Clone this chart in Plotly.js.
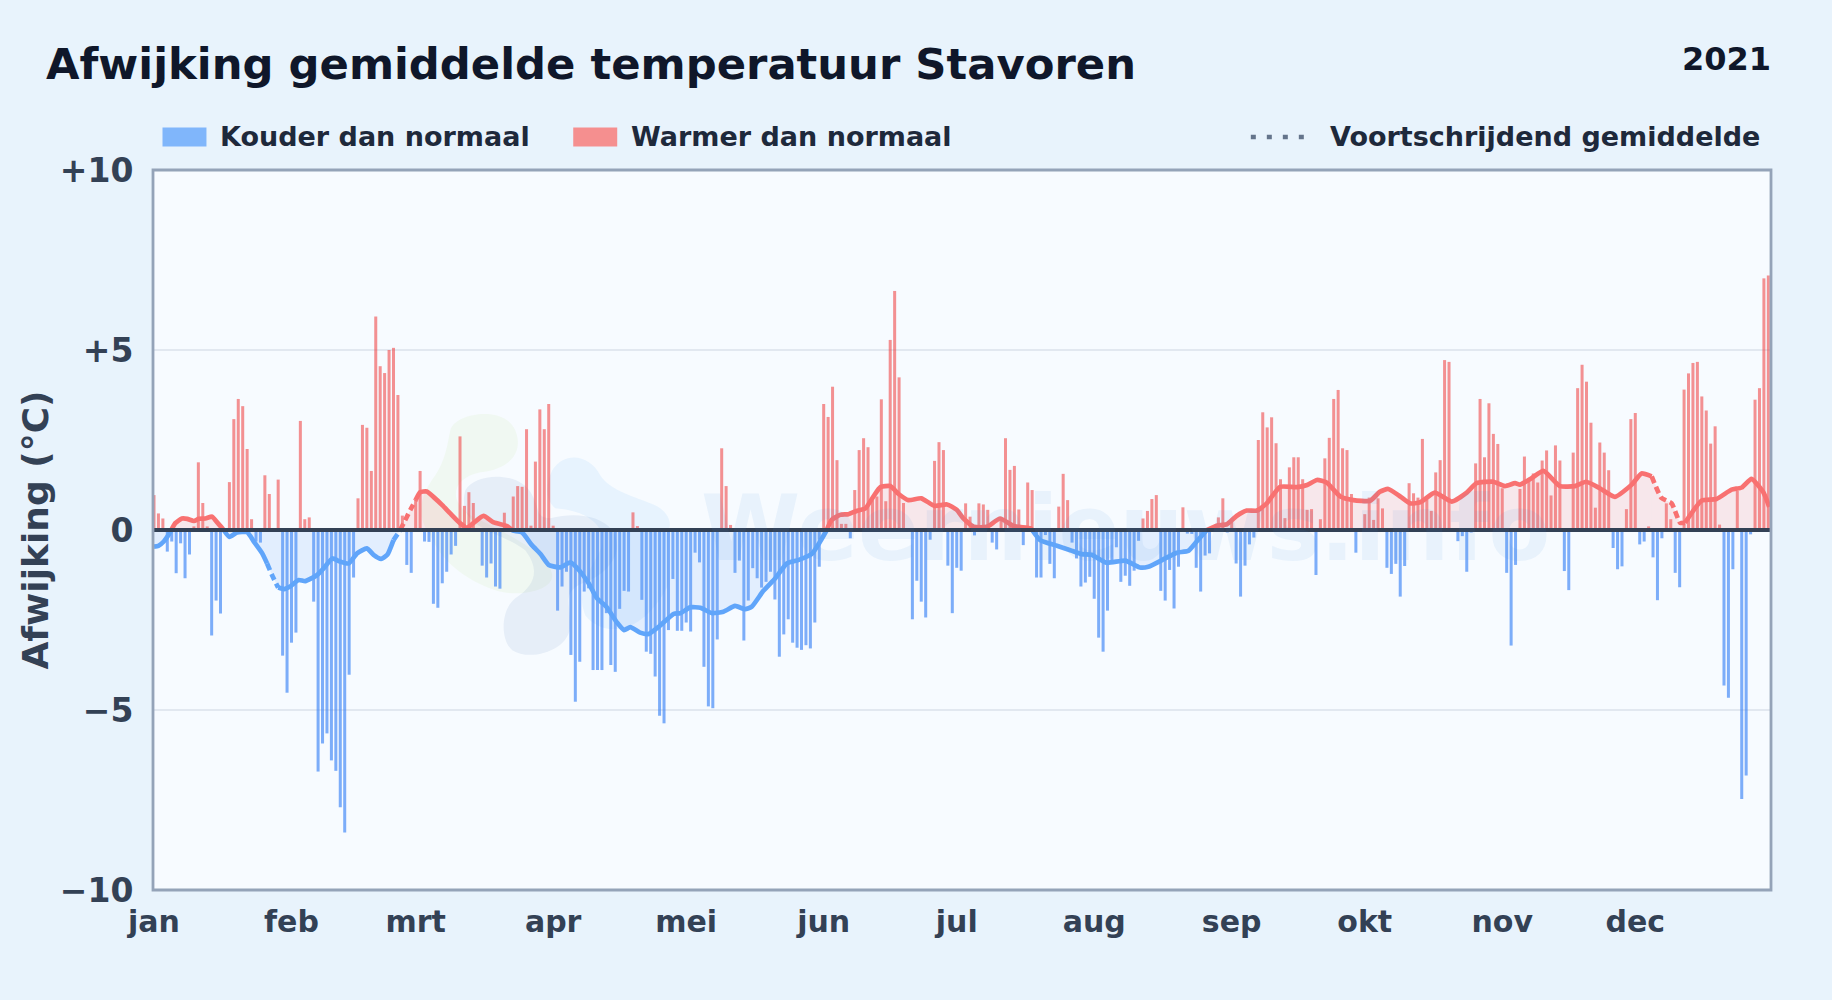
<!DOCTYPE html>
<html><head><meta charset="utf-8">
<script src="https://cdn.plot.ly/plotly-3.0.1.min.js"></script>
<style>html,body{margin:0;padding:0;background:#e8f3fc}#c{width:1832px;height:1000px}</style>
</head><body><div id="c"></div>
<script>
const titleText = "Afwijking gemiddelde temperatuur Stavoren";
const yearText = "2021";
const monthLabels = ["jan","feb","mrt","apr","mei","jun","jul","aug","sep","okt","nov","dec"];
const monthStarts = [0,31,59,90,120,151,181,212,243,273,304,334];
const yTickVals = [10,5,0,-5,-10];
const yTickText = ["+10","+5","0","\u22125","\u221210"];
const deviations = [
0.97,0.46,0.32,-0.6,-0.32,-1.2,-0.37,-1.34,-0.68,0.1,
1.88,0.75,0.1,-2.93,-1.96,-2.32,0,1.33,3.08,3.64,
3.44,2.25,0.3,-0.32,-0.35,1.52,1.0,0,1.4,-3.49,
-4.52,-3.13,-2.85,3.03,0.3,0.35,-1.99,-6.71,-5.93,-5.65,
-6.4,-6.69,-7.7,-8.4,-4.02,-1.32,0.88,2.92,2.84,1.64,
5.93,4.55,4.36,5.0,5.06,3.75,0.4,-0.97,-1.19,0.85,
1.64,-0.32,-0.33,-2.05,-2.16,-1.48,-1.16,-0.68,-0.44,2.6,
0.67,1.05,0.75,0,-0.99,-1.32,-0.93,-1.57,-1.63,0.48,
0,0.93,1.22,1.2,2.8,0.12,1.9,3.35,2.8,3.5,
0.12,-2.24,-1.57,-1.16,-3.47,-4.77,-3.66,-1.71,-1.62,-3.89,
-3.89,-3.89,-2.31,-3.75,-3.94,-2.19,-1.69,-1.71,0.49,0.11,
-1.94,-3.38,-3.44,-4.07,-5.16,-5.37,-2.78,-1.36,-2.8,-2.8,
-2.57,-2.82,-0.63,-0.9,-3.8,-4.9,-4.95,-3.04,2.27,1.22,
0.14,-1.19,-0.85,-3.07,-1.96,-1.06,-1.34,-1.6,-1.44,-1.16,
-1.93,-3.52,-2.9,-2.48,-3.13,-3.27,-3.33,-3.2,-3.29,-2.57,
-1.02,3.5,3.14,3.98,1.94,0.17,0.17,-0.23,1.11,2.22,
2.55,2.3,0.83,0.93,3.63,0.8,5.28,6.64,4.24,0.75,
0,-2.48,-1.41,-1.99,-2.43,-0.27,1.92,2.44,2.22,-0.99,
-2.31,-1.05,-1.13,0.74,0.37,-0.15,0.74,0.71,0.56,-0.35,
-0.54,0.3,2.55,1.67,1.78,0.57,-0.42,1.32,1.11,-1.32,
-1.32,-0.14,-0.94,-1.34,0.65,1.56,0.83,-0.35,-0.79,-1.57,
-1.46,-1.3,-1.91,-2.99,-3.38,-2.24,-0.9,-0.48,-1.44,-1.27,
-1.55,-1.13,-0.3,0.32,0.53,0.86,0.97,-1.69,-1.96,-1.11,
-2.18,-1.02,0.63,-0.1,-0.11,-1.05,-1.71,-0.71,-0.65,0.08,
0.35,0.88,-0.07,0.23,-0.93,-1.85,-0.99,-0.4,-0.21,2.5,
3.27,2.85,3.13,2.41,1.41,0.33,1.74,2.02,2.02,1.41,
0.56,0.58,-1.25,0.3,1.99,2.56,3.64,3.89,2.27,2.22,
1.0,-0.63,0,0.44,0.9,0.28,0.88,0.6,-1.05,-1.22,
-0.94,-1.85,-1.0,1.3,1.02,0.9,2.53,0.85,0.53,1.6,
1.94,4.72,4.67,0,-0.31,-0.17,-1.16,-0.07,1.85,3.64,
2.02,3.52,2.67,2.39,1.16,-1.19,-3.21,-0.97,1.14,2.04,
1.44,1.57,1.32,1.93,2.21,0.96,2.35,1.93,-1.14,-1.67,
2.15,3.94,4.59,4.12,2.98,0.62,2.43,2.15,1.66,-0.5,
-1.09,-1.01,0.58,3.08,3.25,-0.4,-0.32,0.1,-0.76,-1.95,
-0.23,0.74,0.3,-1.19,-1.59,3.9,4.35,4.64,4.67,3.71,
3.32,2.4,2.88,0.15,-4.32,-4.66,-1.09,1.09,-7.47,-6.82,
-0.12,3.62,3.94,6.99,7.07];
const days = deviations.map((_, i) => i);

const maDays = [0,1,2.2,3.7,3.9,4.8,6.3,7.5,9,10.1,11.6,13.1,14.4,15.4,15.7,17,18.7,21,22.5,24.4,25.5,26.6,28,29.3,30.8,32.6,34.1,36.8,38.3,40.2,42,43.9,45.8,48,49.5,51.2,52.6,54,55.2,55.5,56.3,57.8,59,60,61.5,63,65,66.8,69,70.6,72,74.3,76.6,79.6,80.8,81,83,85.2,87.1,89,91.6,93.9,95.8,98,99.9,102,104.4,106,107.4,109.6,111.5,113.8,117.2,118.7,120.9,123.2,125.8,128.4,131,133.3,134.8,137.4,140.1,142.7,145.4,148.4,150.2,151.7,152.8,154.7,156.6,158.4,160.4,162.2,163.8,166,167.9,170.1,173,176,178.8,181,182.5,184.8,187.8,190.8,193.8,197.6,198,199.8,203.6,206.6,209.2,211.4,214.8,219,222.3,224.2,228,230.6,233.2,235.1,237.4,239.6,241.9,244.1,246.4,248.7,250.9,253.9,257.7,260,262.2,264.4,267.5,270.4,274.2,276.4,278.3,281,283.2,285.5,288.8,292.6,296,298.2,302,304.6,306.9,308,310.6,313.3,317,320.4,322.9,326,329.4,333.2,335.4,337.7,339.9,342.2,344.1,345.2,349,352.3,355.7,358,360.2,362.9,364.2];
const maValues = [-0.46,-0.44,-0.32,-0.05,0,0.19,0.32,0.31,0.25,0.31,0.32,0.37,0.19,0.05,0,-0.19,-0.07,-0.06,-0.32,-0.65,-0.93,-1.25,-1.6,-1.64,-1.56,-1.39,-1.42,-1.25,-1.06,-0.79,-0.88,-0.93,-0.65,-0.51,-0.69,-0.8,-0.69,-0.28,-0.06,0,0.19,0.56,0.83,1.05,1.07,0.92,0.69,0.46,0.19,0.06,0.19,0.39,0.21,0.11,0,-0.02,-0.07,-0.42,-0.66,-0.97,-1.04,-0.9,-1.11,-1.48,-1.9,-2.13,-2.57,-2.78,-2.7,-2.85,-2.89,-2.69,-2.33,-2.31,-2.15,-2.16,-2.31,-2.27,-2.11,-2.2,-2.13,-1.69,-1.34,-0.93,-0.83,-0.65,-0.32,0,0.28,0.42,0.44,0.53,0.6,0.93,1.19,1.22,1.0,0.83,0.88,0.67,0.71,0.56,0.32,0.09,0.09,0.32,0.11,0.05,0,-0.28,-0.44,-0.56,-0.67,-0.69,-0.91,-0.85,-1.04,-1.02,-0.79,-0.63,-0.58,-0.32,0,0.12,0.16,0.39,0.54,0.54,0.74,1.2,1.19,1.25,1.39,1.32,0.93,0.83,0.81,1.06,1.14,0.93,0.74,0.77,1.04,0.79,1.04,1.3,1.34,1.22,1.3,1.26,1.44,1.64,1.22,1.22,1.34,1.16,0.92,1.26,1.57,1.49,0.89,0.74,0.2,0.2,0.82,0.86,1.12,1.18,1.42,1.04,0.64];
const dashedRanges = [[25.5,28],[54,59],[337.7,345.2]];

const RED = "#f87171", BLUE = "#60a5fa";
const L=152.5, R=1771.5, T=169.5, B=890;
const fx = X => (X-L)/(R-L), fy = Y => (B-Y)/(B-T);
const xr = [-0.225, 364.6];

const isDashed = d => dashedRanges.some(r => d >= r[0] && d < r[1]);
const segs = [];
let cur = null;
for (let i = 0; i < maDays.length - 1; i++) {
  const mid = (maValues[i] + maValues[i+1]) / 2;
  const sign = mid >= 0 ? 1 : -1;
  const dash = isDashed(maDays[i]);
  if (!cur || cur.sign !== sign || cur.dash !== dash) {
    cur = {sign, dash, x:[maDays[i]], y:[maValues[i]]};
    segs.push(cur);
  }
  cur.x.push(maDays[i+1]); cur.y.push(maValues[i+1]);
}

const data = [{
  type:"bar", x:days, y:deviations, width:0.68, hoverinfo:"skip",
  marker:{color:deviations.map(v => v<0 ? "rgba(59,130,246,0.65)" : "rgba(239,68,68,0.58)"), line:{width:0}}
}];
segs.forEach(s => {
  data.push({type:"scatter", mode:"none", x:s.x, y:s.y, fill:"tozeroy", hoverinfo:"skip",
    fillcolor: s.sign>0 ? "rgba(248,113,113,0.14)" : "rgba(96,165,250,0.14)"});
});
segs.forEach(s => {
  data.push({type:"scatter", mode:"lines", x:s.x, y:s.y, hoverinfo:"skip",
    line:{color:s.sign>0?RED:BLUE, width:4.7, shape:"spline", smoothing:0.5, dash:s.dash?"7px,4px":"solid"}});
});

const blob = (d, fill) => ({type:"path", layer:"below", xref:"paper", yref:"paper", line:{width:0}, fillcolor:fill,
  path:d.replace(/(-?[\d.]+),(-?[\d.]+)/g, (m,a,b) => fx(+a).toFixed(5)+","+fy(+b).toFixed(5))});
const GREEN="rgba(190,225,130,0.10)", GREY="rgba(90,130,190,0.10)", LBLUE="rgba(110,180,250,0.11)";

const shapes = [
  blob("M 450,430 C 455,412 505,405 515,430 C 525,455 505,470 480,472 C 450,478 445,505 480,520 C 510,535 550,555 552,575 C 553,590 520,598 495,590 C 465,580 440,560 430,535 C 415,515 420,495 435,475 C 445,460 447,445 450,430 Z", GREEN),
  blob("M 465,490 C 475,472 520,470 532,495 C 540,510 535,517 550,518 C 575,512 600,515 612,530 C 625,550 610,570 590,580 C 560,590 570,600 570,625 C 570,650 530,662 512,650 C 500,640 500,610 515,598 C 535,585 540,570 525,550 C 500,530 455,530 465,490 Z", GREY),
  blob("M 552,470 C 565,450 590,455 600,475 C 610,490 630,495 650,503 C 670,510 672,525 668,530 L 668,585 C 640,640 600,635 585,615 C 575,590 590,570 600,550 C 610,530 590,510 555,508 C 545,500 545,485 552,470 Z", LBLUE),
  {type:"line", xref:"paper", yref:"y", x0:0, x1:1, y0:0, y1:0, layer:"above", line:{color:"#334155", width:3.8}},
  {type:"rect", xref:"paper", yref:"paper", x0:0, x1:1, y0:0, y1:1, layer:"above", line:{color:"#94a3b8", width:2.8}, fillcolor:"rgba(0,0,0,0)"},
  {type:"rect", xref:"paper", yref:"paper", x0:fx(162), x1:fx(206), y0:fy(146), y1:fy(127), line:{width:0}, fillcolor:"#80b6fb"},
  {type:"rect", xref:"paper", yref:"paper", x0:fx(573), x1:fx(617), y0:fy(146), y1:fy(127), line:{width:0}, fillcolor:"#f58f8f"},
  {type:"line", xref:"paper", yref:"paper", x0:fx(1251), x1:fx(1308), y0:fy(136.5), y1:fy(136.5), line:{color:"#64748b", width:4.5, dash:"5px,11px"}}
];

const LEG = {family:"DejaVu Sans", size:27, color:"#1e293b"};
const ann = (text,X,Y,anchor,font,extra) => Object.assign({text:"<b>"+text+"</b>", xref:"paper", yref:"paper", x:fx(X), y:fy(Y), xanchor:anchor, yanchor:"middle", showarrow:false, font, borderpad:0}, extra||{});
const annotations = [
  {text:"<b>Weernieuws.info</b>", xref:"paper", yref:"paper", x:fx(1126), y:fy(528), xanchor:"center", yanchor:"middle", showarrow:false, font:{family:"DejaVu Sans", size:90, color:"rgba(70,140,220,0.08)"}},
  ann(yearText,1773,58,"right",{family:"DejaVu Sans",size:32,color:"#0f172a"}),
  ann("Kouder dan normaal",218.5,136,"left",LEG),
  ann("Warmer dan normaal",629.5,136,"left",LEG),
  ann("Voortschrijdend gemiddelde",1329.5,136,"left",LEG)
];

const layout = {
  width:1832, height:1000, showlegend:false, barmode:"overlay", hovermode:false,
  paper_bgcolor:"#e8f3fc", plot_bgcolor:"#f7fbff",
  margin:{l:L, r:1832-R, t:T, b:1000-B, pad:0},
  font:{family:"DejaVu Sans"},
  title:{text:"<b>"+titleText+"</b>", x:46/1832, xanchor:"left", xref:"container", y:1-64/1000, yref:"container", yanchor:"middle", font:{family:"DejaVu Sans", size:43.3, color:"#0f172a"}},
  xaxis:{range:xr, tickmode:"array", tickvals:monthStarts, ticktext:monthLabels.map(t=>"<b>"+t+"</b>"), showgrid:false, zeroline:false,
    showline:false, ticks:"outside", ticklen:5, tickcolor:"rgba(0,0,0,0)", tickangle:0, tickfont:{family:"DejaVu Sans", size:30, color:"#334155"}},
  yaxis:{range:[-10,10], tickmode:"array", tickvals:yTickVals, ticktext:yTickText.map(t=>"<b>"+t+"</b>"), showgrid:true, gridcolor:"#e2e8f0", gridwidth:2, zeroline:false,
    showline:false, ticks:"outside", ticklen:12, tickcolor:"rgba(0,0,0,0)", tickfont:{family:"DejaVu Sans", size:33, color:"#334155"},
    title:{text:"<b>Afwijking (°C)</b>", standoff:0, font:{family:"DejaVu Sans", size:36, color:"#334155"}}},
  shapes, annotations
};
Plotly.newPlot("c", data, layout, {staticPlot:true, displayModeBar:false});
</script></body></html>
